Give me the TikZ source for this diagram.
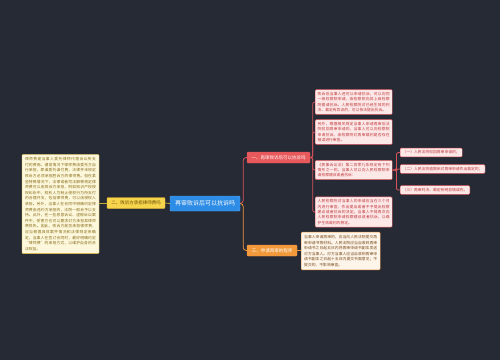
\documentclass[tikz,border=0pt]{standalone}
\usepackage{fontspec}
\setmainfont{Noto Sans CJK SC}
\XeTeXlinebreaklocale "zh"
\XeTeXlinebreakskip = 0pt plus 0.5pt
\definecolor{bg}{HTML}{262A35}
\definecolor{cblue}{HTML}{2D8CE6}
\definecolor{cblueb}{HTML}{5AAAF0}
\definecolor{ylw}{HTML}{F6D44C}
\definecolor{ylwb}{HTML}{E2B62A}
\definecolor{ylwt}{HTML}{6B4F0A}
\definecolor{ylwline}{HTML}{C9A93B}
\definecolor{cream}{HTML}{FDF8DC}
\definecolor{creamt}{HTML}{8A6D1C}
\definecolor{rnode}{HTML}{E8595C}
\definecolor{rline}{HTML}{D9545A}
\definecolor{rleaf}{HTML}{FDE8E8}
\definecolor{rleaft}{HTML}{C0393B}
\definecolor{onode}{HTML}{F29A3B}
\definecolor{oline}{HTML}{EE9440}
\definecolor{oleaf}{HTML}{FDF5EA}
\definecolor{oleaft}{HTML}{7A4A1A}
\tikzset{
  centernode/.style={draw=cblueb, fill=cblue, text=white, font=\fontsize{6}{7}\selectfont, minimum width=70pt, minimum height=15pt, inner sep=1pt, rounded corners=1pt},
  yellownode/.style={draw=ylwb, fill=ylw, text=ylwt, font=\fontsize{4.5}{5}\selectfont, minimum width=58pt, minimum height=11pt, inner sep=1pt, rounded corners=1pt},
  rednode/.style={draw=rline, fill=rnode, text=white, font=\fontsize{4.5}{5}\selectfont, minimum width=63pt, minimum height=11pt, inner sep=1pt, rounded corners=1pt},
  orangenode/.style={draw=oline, fill=onode, text=white, font=\fontsize{4.5}{5}\selectfont, minimum width=50pt, minimum height=11pt, inner sep=1pt, rounded corners=1pt},
  bigbox/.style={draw=ylwb, fill=cream, text=creamt, font=\fontsize{3.8}{5.6}\selectfont, text width=71pt, inner sep=3pt, align=justify, rounded corners=1pt},
  redleaf/.style={draw=rline, fill=rleaf, text=rleaft, font=\fontsize{3.8}{5.4}\selectfont, text width=72pt, inner sep=2.5pt, align=justify, rounded corners=1pt, anchor=west},
  redsub/.style={draw=rline, fill=rleaf, text=rleaft, font=\fontsize{3.8}{5}\selectfont, inner sep=2.5pt, rounded corners=1pt, anchor=west},
  orleaf/.style={draw=oline, fill=oleaf, text=oleaft, font=\fontsize{3.8}{5.6}\selectfont, text width=73pt, inner sep=3pt, align=justify, rounded corners=1pt, anchor=west},
  yl/.style={draw=ylwline, line width=0.8pt},
  rl/.style={draw=rline, line width=0.8pt, rounded corners=3pt},
  ol/.style={draw=oline, line width=0.8pt, rounded corners=3pt}
}
\begin{document}
\begin{tikzpicture}[x=1pt,y=-1pt]
\fill[bg] (0,0) rectangle (500,360);
\useasboundingbox (0,0) rectangle (500,360);
\node[centernode] (c) at (205,203.5) {再审败诉后可以抗诉吗};
\node[yellownode] (n2) at (136,203) {二、败诉方承担律师费吗};
\node[bigbox] (lb) at (60.5,204) {律师费是当事人委托律师代理诉讼所支付的费用。通常情况下律师费由委托方自行承担，即谁委托谁付费，法律并未规定败诉方必须承担胜诉方的律师费。但在某些特殊情况下，法律或者司法解释规定律师费可以由败诉方承担，例如知识产权侵权纠纷中，权利人为制止侵权行为所支付的合理开支，包括律师费，可以由侵权人承担。另外，当事人在合同中明确约定律师费由违约方承担的，法院一般会予以支持。此外，在一些恶意诉讼、虚假诉讼案件中，受害方也可以要求对方承担其律师费损失。因此，败诉方是否承担律师费，应当根据具体案件情况和法律规定来确定，当事人在签订合同时，最好明确约定“律师费”的承担方式，以维护自身的合法权益。};
\node[rednode] (n1) at (278.5,157.5) {一、再审败诉后可以抗诉吗};
\node[orangenode] (n3) at (272,250.5) {三、申请再审的程序};
\node[redleaf] (a) at (315,102) {败诉后当事人还可以申请抗诉，可以向同一级检察院申请，由检察院向其上级检察院提请抗诉。人民检察院对已经生效的判决、裁定有异议的，可以依法提出抗诉。};
\node[redleaf] (b) at (315,132) {另外，根据相关规定当事人申请再审后法院驳回再审申请的，当事人可以向检察院申请抗诉，由检察院对再审裁判是否存在错误进行审查。};
\node[redleaf] (cc) at (315,170) {《民事诉讼法》第二百零九条规定有下列情形之一的，当事人可以向人民检察院申请检察建议或者抗诉：};
\node[redleaf] (d) at (315,212) {人民检察院对当事人的申请应当在三个月内进行审查，作出提出或者不予提出检察建议或者抗诉的决定。当事人不得再次向人民检察院申请检察建议或者抗诉，以维护生效裁判的稳定。};
\node[redsub] (s1) at (400,152.5) {（一）人民法院驳回再审申请的；};
\node[redsub] (s2) at (400,169) {（二）人民法院逾期未对再审申请作出裁定的；};
\node[redsub] (s3) at (400,190) {（三）再审判决、裁定有明显错误的。};
\node[orleaf] (e) at (301,251) {当事人申请再审的，应当向人民法院提交再审申请书等材料。人民法院应当自收到再审申请书之日起五日内将再审申请书副本发送对方当事人。对方当事人应当自收到再审申请书副本之日起十五日内提交书面意见；不提交的，不影响审查。};
\draw[yl] (c.west) -- (n2.east);
\draw[yl] (n2.west) -- (n2.west -| lb.east);
\draw[rl] (c.east) -- ++(3,0) |- (n1.west);
\draw[ol] (c.east) -- ++(3,0) |- (n3.west);
\foreach \t in {a,b,cc,d} \draw[rl, rounded corners=2pt] (n1.east) -- ++(2.5,0) |- (\t.west);
\foreach \t in {s1,s2,s3} \draw[rl, rounded corners=2pt] (cc.east) -- ++(4,0) |- (\t.west);
\draw[ol] (n3.east) -- (n3.east -| e.west);
\end{tikzpicture}
\end{document}
